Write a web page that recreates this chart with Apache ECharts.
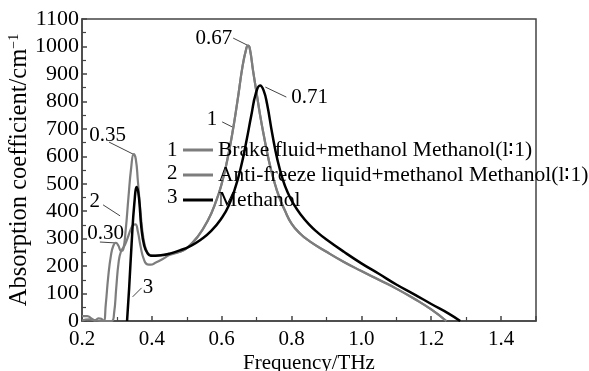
<!DOCTYPE html>
<html><head><meta charset="utf-8">
<script src="https://cdn.jsdelivr.net/npm/echarts@6/dist/echarts.min.js"></script>
<style>html,body{margin:0;padding:0;background:#fff}#c{width:589px;height:371px}</style>
</head><body><div id="c"></div>
<script>
// ---- data ----
const seriesNames = ['Brake fluid+methanol Methanol(l\u22361)', 'Anti-freeze liquid+methanol Methanol(l\u22361)', 'Methanol'];
const xTicks = ['0.2','0.4','0.6','0.8','1.0','1.2','1.4'];
// curve 1: brake fluid + methanol
const brakeFreq = [0.2,0.22,0.24,0.26,0.285,0.292,0.298,0.305,0.312,0.32,0.33,0.34,0.347,0.353,0.36,0.368,0.377,0.387,0.397,0.41,0.43,0.45,0.48,0.5,0.53,0.56,0.585,0.6,0.615,0.63,0.645,0.66,0.67,0.675,0.68,0.69,0.7,0.71,0.72,0.735,0.75,0.765,0.78,0.8,0.825,0.85,0.9,0.95,1.0,1.05,1.1,1.15,1.2,1.243];
const brakeVal  = [2,6,2,0,0,30,120,215,255,270,300,335,350,352,325,270,225,206,205,212,225,240,252,265,305,365,440,500,580,680,800,930,990,1003,995,910,830,750,680,585,510,450,405,355,318,292,252,215,182,150,118,82,42,0];
// curve 2: anti-freeze liquid + methanol
const antiFreq = [0.2,0.215,0.228,0.237,0.247,0.255,0.262,0.268,0.275,0.283,0.29,0.297,0.304,0.312,0.318,0.325,0.333,0.341,0.348,0.354,0.36,0.368,0.376,0.385,0.395,0.41,0.43,0.45,0.48,0.5,0.53,0.56,0.585,0.6,0.615,0.63,0.645,0.66,0.67,0.675,0.68,0.69,0.7,0.71,0.72,0.735,0.75,0.765,0.78,0.8,0.825,0.85,0.9,0.95,1.0,1.05,1.1,1.15,1.2,1.243];
const antiVal  = [18,18,8,2,10,8,0,60,160,240,275,285,275,255,260,330,450,560,608,590,510,390,300,255,240,238,240,245,252,265,305,365,440,500,580,680,800,930,990,1003,995,910,830,750,680,585,510,450,405,355,318,292,252,215,182,150,118,82,42,0];
// curve 3: methanol
const methFreq = [0.329,0.335,0.342,0.35,0.357,0.363,0.37,0.378,0.387,0.397,0.41,0.43,0.45,0.48,0.51,0.54,0.57,0.6,0.62,0.64,0.655,0.67,0.685,0.698,0.71,0.72,0.73,0.745,0.76,0.775,0.79,0.805,0.825,0.85,0.875,0.9,0.95,1.0,1.05,1.1,1.15,1.2,1.25,1.283];
const methVal  = [0,120,280,430,488,450,340,275,248,238,238,240,245,257,273,296,328,375,420,490,560,650,750,830,858,840,790,680,585,515,465,428,390,352,322,297,252,210,172,133,98,62,27,0];
// annotations: text and the frequency / absorption point each leader line touches
const annText = ['0.67','0.71','0.35','0.30','1','2','3'];
const annFreq = [0.673,0.725,0.346,0.300,0.630,0.309,0.345];
const annVal  = [1005,852,608,284,707,383,88];

const zip = (a,b) => a.map((x,i)=>[x,b[i]]);
const FONT = 'Liberation Serif';
const GRAY = '#7d7d7d';
const chart = echarts.init(document.getElementById('c'), null, {renderer:'canvas'});
const option = {
  animation:false,
  backgroundColor:'#fff',
  textStyle:{fontFamily:FONT},
  grid:{left:82,right:53,top:19,bottom:50,containLabel:false,outerBoundsMode:'none',show:true,borderColor:'#444',borderWidth:1.5,backgroundColor:'transparent'},
  legend:{
    orient:'vertical', left:183, top:139, padding:0, itemWidth:30, itemHeight:3, itemGap:3, icon:'rect',
    textStyle:{fontFamily:FONT,fontSize:21.5,color:'#000',lineHeight:20.5},
    data:seriesNames
  },
  xAxis:{
    type:'value', min:0.2, max:1.5, interval:0.2,
    name:'Frequency/THz', nameLocation:'middle', nameGap:32, nameMoveOverlap:false,
    nameTextStyle:{fontFamily:FONT,fontSize:21,color:'#000'},
    axisLine:{lineStyle:{color:'#444',width:1.5}},
    axisTick:{inside:true,length:5,lineStyle:{color:'#444',width:1.5}},
    minorTick:{show:true,splitNumber:2,length:4,lineStyle:{color:'#444',width:1.2}},
    splitLine:{show:false},
    axisLabel:{fontFamily:FONT,fontSize:21,color:'#000',margin:8,showMaxLabel:false,
      formatter:v=>{const s=v.toFixed(1);return xTicks.indexOf(s)>=0?s:'';}}
  },
  yAxis:{
    type:'value', min:0, max:1100, interval:100,
    name:'{a|Absorption coefficient/cm}{s|\u22121}', nameLocation:'middle', nameGap:49, nameMoveOverlap:false,
    nameTextStyle:{fontFamily:FONT,rich:{a:{fontFamily:FONT,fontSize:24.5,color:'#000'},s:{fontFamily:FONT,fontSize:14,color:'#000',verticalAlign:'top',padding:[0,0,12,0]}}},
    axisLine:{lineStyle:{color:'#444',width:1.5}},
    axisTick:{inside:true,length:5,lineStyle:{color:'#444',width:1.5}},
    minorTick:{show:true,splitNumber:2,length:4,lineStyle:{color:'#444',width:1.2}},
    splitLine:{show:false},
    axisLabel:{fontFamily:FONT,fontSize:22,color:'#000',margin:3,formatter:v=>String(v)}
  },
  series:[
    {name:seriesNames[0],type:'line',data:zip(brakeFreq,brakeVal),showSymbol:false,smooth:0.5,lineStyle:{color:GRAY,width:2.2},itemStyle:{color:GRAY}},
    {name:seriesNames[1],type:'line',data:zip(antiFreq,antiVal),showSymbol:false,smooth:0.5,lineStyle:{color:GRAY,width:2.2},itemStyle:{color:GRAY}},
    {name:seriesNames[2],type:'line',data:zip(methFreq,methVal),showSymbol:false,smooth:0.5,lineStyle:{color:'#000',width:2.5},itemStyle:{color:'#000'}}
  ]
};
chart.setOption(option);

// label placement relative to the leader's end point (px): text anchor offset, alignment, leader start offset
const annTextOff = [[-15,-7],[26,10],[-7,-19],[7,-10],[-15,-7],[-20,-14],[10,-9]];
const annAlign   = ['right','left','right','right','right','right','left'];
const annLeadOff = [[-14,-7],[21,10],[-24,-12],[-17,-1],[-10,-5],[-17,-11],[9,-9]];
const graphics = [];
annText.forEach((t,i)=>{
  const p = chart.convertToPixel({gridIndex:0},[annFreq[i],annVal[i]]);
  graphics.push({type:'line',shape:{x1:p[0]+annLeadOff[i][0],y1:p[1]+annLeadOff[i][1],x2:p[0],y2:p[1]},style:{stroke:'#444',lineWidth:1}});
  graphics.push({type:'text',x:p[0]+annTextOff[i][0],y:p[1]+annTextOff[i][1],style:{text:t,font:'21px "Liberation Serif"',fill:'#000',align:annAlign[i],verticalAlign:'middle'}});
});
// legend numbers
['1','2','3'].forEach((t,i)=>{
  graphics.push({type:'text',x:167,y:150+i*23.5,style:{text:t,font:'21px "Liberation Serif"',fill:'#000',verticalAlign:'middle'}});
});
chart.setOption({graphic:graphics});
</script></body></html>
